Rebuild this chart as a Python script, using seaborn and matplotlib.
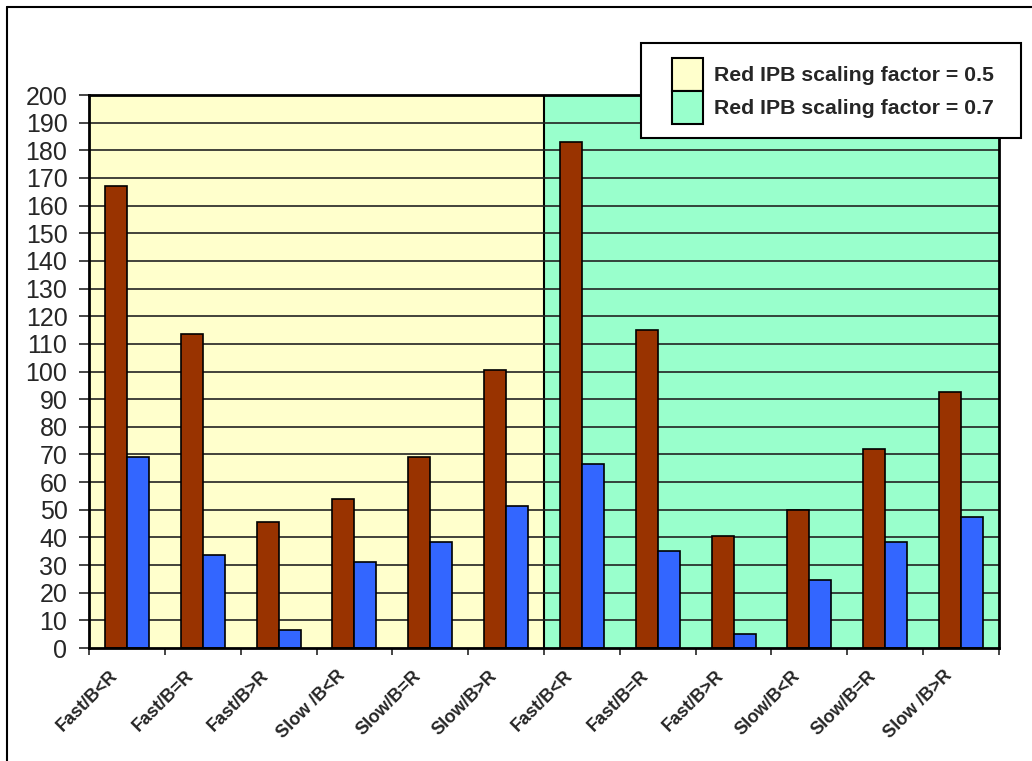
import numpy as np
import pandas as pd
import matplotlib
matplotlib.use("Agg")
import matplotlib.pyplot as plt
import matplotlib.transforms as mtransforms
import seaborn as sns
from matplotlib.patches import Patch, Rectangle
from matplotlib.legend_handler import HandlerPatch

# categories (same six cases repeated for each scaling factor)
categories = ["Fast/B<R", "Fast/B=R", "Fast/B>R", "Slow /B<R", "Slow/B=R", "Slow/B>R",
              "Fast/B<R", "Fast/B=R", "Fast/B>R", "Slow/B<R", "Slow/B=R", "Slow /B>R"]
brown_vals = [167, 113.5, 45.5, 54, 69, 100.5, 183, 115, 40.5, 50, 72, 92.5]
blue_vals = [69, 33.5, 6.5, 31, 38.5, 51.5, 66.5, 35, 5, 24.5, 38.5, 47.5]
series_names = ["Series 1", "Series 2"]
region_labels = ["Red IPB scaling factor = 0.5", "Red IPB scaling factor = 0.7"]
yticks = list(range(0, 201, 10))

sns.set_style("white")
plt.rcParams['font.family'] = ['Liberation Sans', 'DejaVu Sans']

n = len(categories)
df = pd.DataFrame({
    "slot": list(range(n)) * 2,
    "value": brown_vals + blue_vals,
    "series": [series_names[0]] * n + [series_names[1]] * n,
})

fig = plt.figure(figsize=(10.32, 7.61), dpi=100)
ax = fig.add_axes([89/1032, 1 - 648/761, 910/1032, 553/761])

# shaded background regions
ax.axvspan(-0.5, 5.5, color="#FFFFCC", zorder=0)
ax.axvspan(5.5, 11.5, color="#99FFCC", zorder=0)
ax.axvline(5.5, color="black", lw=1.5, zorder=1)

for y in yticks[1:]:
    ax.axhline(y, color="#222222", lw=1.2, zorder=1)

sns.barplot(data=df, x="slot", y="value", hue="series",
            palette=["#993300", "#3366FF"], edgecolor="black", linewidth=1.2,
            width=0.58, gap=0, saturation=1, legend=False, ax=ax, zorder=2)

ax.set_xlim(-0.5, 11.5)
ax.set_ylim(0, 200)
ax.set_yticks(yticks)
ax.set_yticklabels([str(v) for v in yticks], fontsize=18)
ax.tick_params(axis="y", direction="out", length=7.5, width=1.2, pad=8, left=True)

ax.set_xticks(range(n))
ax.set_xticklabels(categories, rotation=45, ha="right", rotation_mode="anchor",
                   fontsize=13, fontweight="bold")
ax.tick_params(axis="x", which="major", length=0, pad=14)
shift = mtransforms.ScaledTranslation(-18/100, 0, fig.dpi_scale_trans)
for lbl in ax.get_xticklabels():
    lbl.set_transform(lbl.get_transform() + shift)
ax.set_xticks(np.arange(-0.5, n, 1.0), minor=True)
ax.tick_params(axis="x", which="minor", direction="out", length=5, width=1.2, bottom=True)
ax.set_xlabel("")
ax.set_ylabel("")

for side in ["top", "bottom", "left", "right"]:
    ax.spines[side].set_visible(True)
    ax.spines[side].set_color("black")
    ax.spines[side].set_linewidth(2)


# legend swatches sit at the right of a wider handle box (extra room on the left)
def right_swatch(legend, orig_handle, xdescent, ydescent, width, height, fontsize):
    w = 22.3
    return Rectangle((-xdescent + width - w, -ydescent), w, height)


handles = [Patch(facecolor="#FFFFCC", edgecolor="black", lw=1.5),
           Patch(facecolor="#99FFCC", edgecolor="black", lw=1.5)]
leg = fig.legend(handles, [lab + "  " for lab in region_labels], loc="upper right",
                 bbox_to_anchor=(1021/1032, 1 - 43/761),
                 prop={"weight": "bold", "size": 15.3},
                 handler_map={Patch: HandlerPatch(patch_func=right_swatch)},
                 frameon=True, fancybox=False, framealpha=1, edgecolor="black",
                 handlelength=2.2, handleheight=2.0, labelspacing=0,
                 borderpad=0.7, handletextpad=0.55, borderaxespad=0)
leg.get_frame().set_linewidth(1.5)

# outer chart border (top and left visible)
fig.add_artist(plt.Line2D([7/1032, 1.01], [1 - 7/761, 1 - 7/761], color="black", lw=1.5))
fig.add_artist(plt.Line2D([7/1032, 7/1032], [1 - 7/761, -0.01], color="black", lw=1.5))

fig.savefig("out.png", dpi=100)
